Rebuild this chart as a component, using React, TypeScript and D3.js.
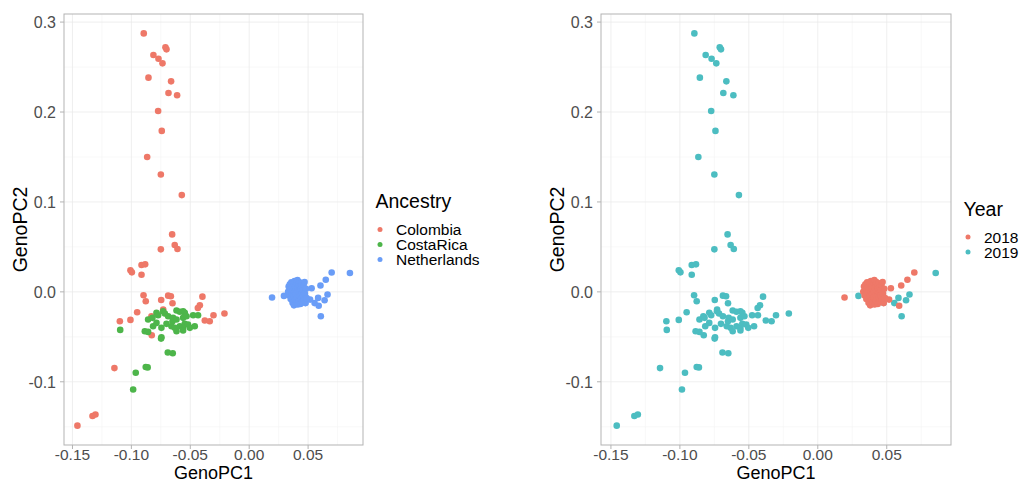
import React from "react";
import * as d3 from "d3";

// ---- data (GenoPC1, GenoPC2) ----
const colombia: [number, number][] = [
  [-0.0895, 0.2874], [-0.0711, 0.2719], [-0.0702, 0.2697], [-0.0813, 0.2634],
  [-0.077, 0.2593], [-0.0736, 0.2541], [-0.0855, 0.2382], [-0.0663, 0.2341],
  [-0.0685, 0.2212], [-0.0612, 0.2186], [-0.0773, 0.2012], [-0.0742, 0.179],
  [-0.0866, 0.15], [-0.075, 0.1305], [-0.0572, 0.1076], [-0.0654, 0.0639],
  [-0.0632, 0.0521], [-0.0609, 0.0476], [-0.075, 0.0473], [-0.1008, 0.024],
  [-0.0996, 0.0217], [-0.0914, 0.0299], [-0.0883, 0.0306], [-0.0914, 0.0191],
  [-0.0897, -0.0038], [-0.0878, -0.0105], [-0.0747, -0.009], [-0.0688, -0.0042],
  [-0.0665, -0.0049], [-0.0651, -0.0127], [-0.0397, -0.0053], [-0.0419, -0.0149],
  [-0.0436, -0.0179], [-0.0303, -0.026], [-0.021, -0.0241], [-0.0377, -0.0319],
  [-0.0335, -0.0327], [-0.0951, -0.0227], [-0.1098, -0.0327], [-0.1008, -0.0312],
  [-0.083, -0.0271], [-0.073, -0.0197], [-0.0827, -0.0482], [-0.1144, -0.0848],
  [-0.133, -0.1381], [-0.1305, -0.1363], [-0.1458, -0.1488],
];

const costaRica: [number, number][] = [
  [-0.1095, -0.0423], [-0.0963, -0.09], [-0.0985, -0.1085], [-0.0878, -0.0836],
  [-0.0862, -0.084], [-0.0691, -0.0674], [-0.0649, -0.0682], [-0.0858, -0.0308],
  [-0.0821, -0.0289], [-0.0787, -0.0233], [-0.0773, -0.026], [-0.0731, -0.0215],
  [-0.0716, -0.0241], [-0.0688, -0.0271], [-0.0617, -0.0208], [-0.0589, -0.0222],
  [-0.0561, -0.0215], [-0.0547, -0.0233], [-0.0646, -0.0289], [-0.0651, -0.0327],
  [-0.0617, -0.0308], [-0.0561, -0.0289], [-0.0532, -0.0271], [-0.0476, -0.026],
  [-0.0434, -0.026], [-0.0816, -0.0382], [-0.0787, -0.0345], [-0.0886, -0.0438],
  [-0.0858, -0.0445], [-0.0745, -0.04], [-0.0702, -0.0356], [-0.066, -0.0382],
  [-0.0632, -0.04], [-0.0617, -0.0438], [-0.0589, -0.0382], [-0.0561, -0.04],
  [-0.0547, -0.0356], [-0.0519, -0.0363], [-0.0504, -0.04], [-0.0462, -0.0382],
  [-0.0561, -0.043], [-0.0745, -0.0504], [-0.0748, -0.052],
];

// Netherlands samples collected in 2018
const netherlands2018: [number, number][] = [
  [0.0194, -0.0062], [0.053, 0.004], [0.0605, 0.007], [0.065, 0.0135],
  [0.07, 0.0216], [0.059, -0.0155], [0.0517, -0.0086],
  [0.033, 0.0], [0.0335, 0.006], [0.034, -0.004], [0.0345, 0.0085],
  [0.035, 0.003], [0.0352, -0.008], [0.0358, 0.0105], [0.036, -0.001],
  [0.0365, 0.005], [0.0368, -0.012], [0.0372, 0.002], [0.0375, -0.005],
  [0.0378, 0.009], [0.038, -0.015], [0.0385, 0.012], [0.0387, 0.0],
  [0.039, -0.009], [0.0393, 0.006], [0.0395, -0.003], [0.0398, 0.003],
  [0.04, -0.012], [0.0403, 0.01], [0.0405, -0.006], [0.0408, 0.001],
  [0.041, 0.013], [0.0412, -0.014], [0.0415, 0.0045], [0.0418, -0.002],
  [0.042, 0.008], [0.0423, -0.01], [0.0425, 0.011], [0.0428, 0.0015],
  [0.043, -0.005], [0.0433, 0.006], [0.0435, -0.0135], [0.0438, 0.003],
  [0.044, -0.008], [0.0443, 0.0095], [0.0445, -0.001], [0.0448, 0.005],
  [0.045, -0.011], [0.0455, 0.002], [0.0458, -0.004], [0.0462, 0.0075],
  [0.0465, -0.009], [0.047, 0.011], [0.0473, -0.002], [0.0478, -0.0125],
  [0.0482, 0.0035], [0.0488, -0.007],
];

// Netherlands samples collected in 2019
const netherlands2019: [number, number][] = [
  [0.0295, -0.0045], [0.0855, 0.021], [0.0585, -0.0067], [0.0665, -0.003],
  [0.064, -0.0093], [0.0555, -0.0125], [0.0608, -0.0271], [0.0476, -0.0122],
];

const xTicks = [-0.15, -0.1, -0.05, 0.0, 0.05];
const xTickLabels = ["-0.15", "-0.10", "-0.05", "0.00", "0.05"];
const xMinor = [-0.125, -0.075, -0.025, 0.025, 0.075];
const yTicks = [-0.1, 0.0, 0.1, 0.2, 0.3];
const yTickLabels = ["-0.1", "0.0", "0.1", "0.2", "0.3"];
const yMinor = [-0.15, -0.05, 0.05, 0.15, 0.25];

const ancestryGroups = ["Colombia", "CostaRica", "Netherlands"];
const ancestryColors = ["#EE7868", "#4DB54A", "#6A9DF7"];
const yearGroups = ["2018", "2019"];
const yearColors = ["#EE7868", "#4CBDC1"];

const X_DOMAIN: [number, number] = [-0.1572, 0.0966];
const Y_DOMAIN: [number, number] = [-0.1703, 0.309];
const FONT = "'Liberation Sans', Arial, Helvetica, sans-serif";

type Pt = { x: number; y: number; color: string };

function Panel({
  left, right, top, bottom, points, legendTitle, legendLabels, legendColors, titleBaseline, keyStart,
}: {
  left: number; right: number; top: number; bottom: number; points: Pt[];
  legendTitle: string; legendLabels: string[]; legendColors: string[];
  titleBaseline: number; keyStart: number;
}) {
  const x = d3.scaleLinear().domain(X_DOMAIN).range([left, right]);
  const y = d3.scaleLinear().domain(Y_DOMAIN).range([bottom, top]);
  const grid = "#EBEBEB";
  const minor = "#F3F3F3";
  const border = "#B3B3B3";
  return (
    <g>
      {xMinor.map((v) => (
        <line key={"xm" + v} x1={x(v)} x2={x(v)} y1={top} y2={bottom} stroke={minor} strokeWidth={0.6} />
      ))}
      {yMinor.map((v) => (
        <line key={"ym" + v} x1={left} x2={right} y1={y(v)} y2={y(v)} stroke={minor} strokeWidth={0.6} />
      ))}
      {xTicks.map((v) => (
        <line key={"xg" + v} x1={x(v)} x2={x(v)} y1={top} y2={bottom} stroke={grid} strokeWidth={0.8} />
      ))}
      {yTicks.map((v) => (
        <line key={"yg" + v} x1={left} x2={right} y1={y(v)} y2={y(v)} stroke={grid} strokeWidth={0.8} />
      ))}
      {points.map((p, i) => (
        <circle key={i} cx={x(p.x)} cy={y(p.y)} r={3.3} fill={p.color} />
      ))}
      <rect x={left} y={top} width={right - left} height={bottom - top} fill="none" stroke={border} strokeWidth={1} />
      {xTicks.map((v, i) => (
        <g key={"xt" + v}>
          <line x1={x(v)} x2={x(v)} y1={bottom} y2={bottom + 4} stroke={border} strokeWidth={1} />
          <text x={x(v)} y={459.5} textAnchor="middle" fontSize={15.5} fill="#4D4D4D" fontFamily={FONT}>
            {xTickLabels[i]}
          </text>
        </g>
      ))}
      {yTicks.map((v, i) => (
        <g key={"yt" + v}>
          <line x1={left - 4} x2={left} y1={y(v)} y2={y(v)} stroke={border} strokeWidth={1} />
          <text x={left - 8} y={y(v)} dy="0.36em" textAnchor="end" fontSize={16} fill="#4D4D4D" fontFamily={FONT}>
            {yTickLabels[i]}
          </text>
        </g>
      ))}
      <text x={(left + right) / 2} y={479} textAnchor="middle" fontSize={18} fill="#000" fontFamily={FONT}>
        GenoPC1
      </text>
      <text
        transform={`translate(${left - 37},${(top + bottom) / 2}) rotate(-90)`}
        textAnchor="middle" fontSize={19.5} fill="#000" fontFamily={FONT}
      >
        GenoPC2
      </text>
      <text x={right + 12.5} y={titleBaseline} fontSize={19.5} fill="#000" fontFamily={FONT}>
        {legendTitle}
      </text>
      {legendLabels.map((lab, i) => (
        <g key={lab}>
          <circle cx={right + 17} cy={keyStart + i * 15} r={2.5} fill={legendColors[i]} />
          <text x={right + 33} y={keyStart + i * 15} dy="0.36em" fontSize={15.5} fill="#000" fontFamily={FONT}>
            {lab}
          </text>
        </g>
      ))}
    </g>
  );
}

export default function App() {
  const toPts = (arr: [number, number][], color: string): Pt[] => arr.map(([a, b]) => ({ x: a, y: b, color }));
  const leftPts: Pt[] = [
    ...toPts(colombia, ancestryColors[0]),
    ...toPts(costaRica, ancestryColors[1]),
    ...toPts(netherlands2019, ancestryColors[2]),
    ...toPts(netherlands2018, ancestryColors[2]),
  ];
  const rightPts: Pt[] = [
    ...toPts(colombia, yearColors[1]),
    ...toPts(costaRica, yearColors[1]),
    ...toPts(netherlands2019, yearColors[1]),
    ...toPts(netherlands2018, yearColors[0]),
  ];
  return (
    <div style={{ position: "fixed", left: 0, top: 0 }}>
      <svg width={1021} height={483} style={{ display: "block", background: "#fff" }}>
        <Panel left={64} right={363} top={14} bottom={445} points={leftPts}
          legendTitle="Ancestry" legendLabels={ancestryGroups} legendColors={ancestryColors}
          titleBaseline={208} keyStart={229.5} />
        <Panel left={601} right={951} top={14} bottom={445} points={rightPts}
          legendTitle="Year" legendLabels={yearGroups} legendColors={yearColors}
          titleBaseline={216} keyStart={237} />
      </svg>
    </div>
  );
}
